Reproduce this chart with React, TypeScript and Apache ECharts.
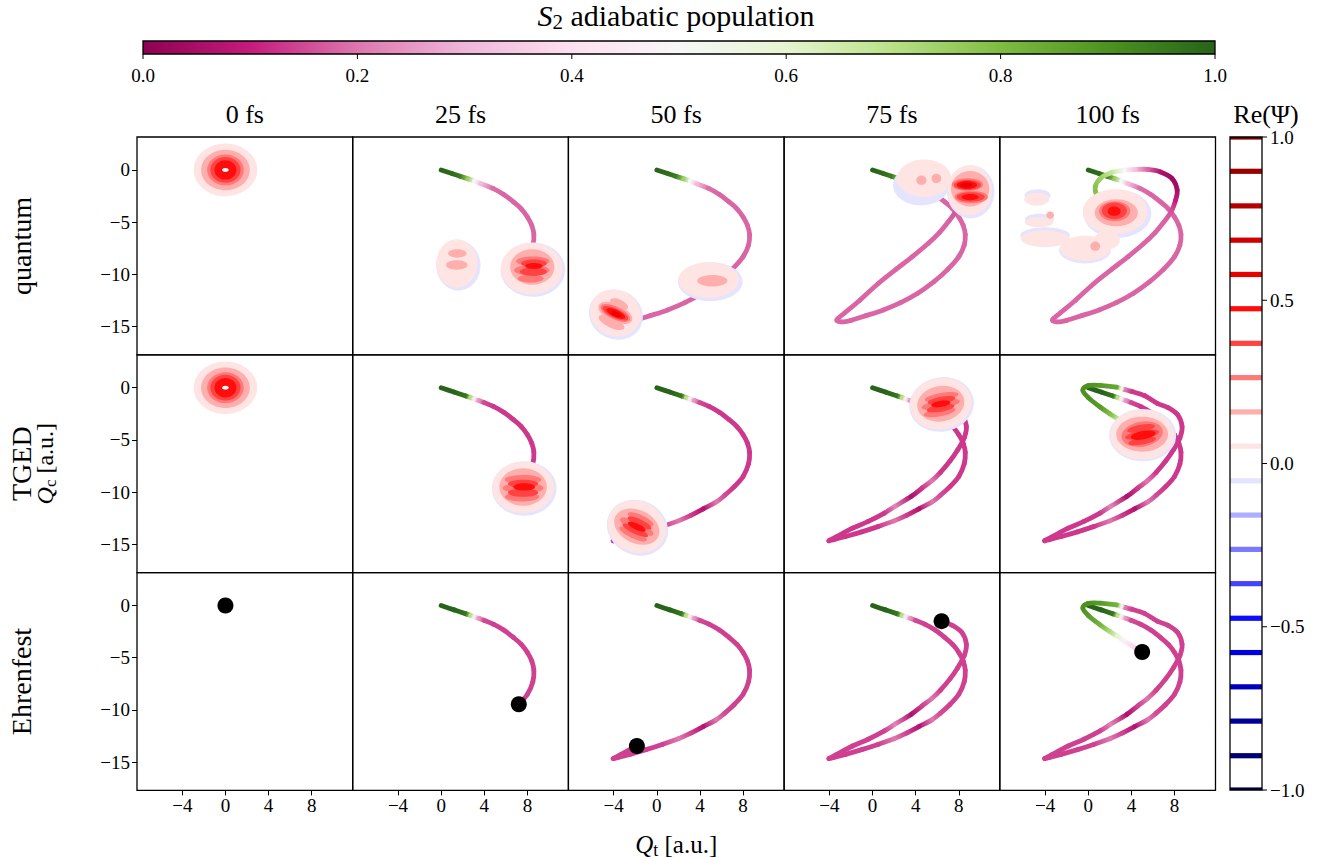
import React, { useEffect, useRef } from 'react';
import * as echarts from 'echarts';

const TIME_LABELS = ['0 fs', '25 fs', '50 fs', '75 fs', '100 fs'];
const ROW_LABELS = ['quantum', 'TGED', 'Ehrenfest'];
const X_TICKS = [-4, 0, 4, 8];
const Y_TICKS = [0, -5, -10, -15];
const X_RANGE = [-8.2, 11.8];
const Y_RANGE = [-17.7, 3.15];
const POP_TICKS = [0, 0.2, 0.4, 0.6, 0.8, 1.0];
const RE_TICKS = [1.0, 0.5, 0.0, -0.5, -1.0];
const RE_LEVELS = [-1, -0.895, -0.789, -0.684, -0.579, -0.474, -0.368, -0.263, -0.158, -0.053,
  0.053, 0.158, 0.263, 0.368, 0.474, 0.579, 0.684, 0.789, 0.895, 1];
const PIYG_STOPS = ['#8e0152', '#c51b7d', '#de77ae', '#f1b6da', '#fde0ef', '#f7f7f7',
  '#e6f5d0', '#b8e186', '#7fbc41', '#4d9221', '#276419'];

// Ehrenfest / TGED trajectory (Q_t, Q_c) and S2 population
const EHR_X = [0.0, 1.2, 2.3, 2.75, 3.1, 3.5, 4.0, 4.84, 5.8, 6.7, 7.45, 8.0, 8.4, 8.6, 8.5, 8.0, 7.2,
  6.3, 5.5, 4.3, 3.2, 2.0, 0.5, -1.0, -2.5, -3.6, -4.05, -3.4, -1.85,
  -0.4, 1.1, 2.1, 3.6, 4.6, 5.5, 6.3, 7.2, 7.9, 8.5, 8.7, 8.3, 7.4, 6.4,
  5.2, 4.0, 3.4, 3.05, 2.6, 1.1, 0.0, -0.5, 0.0, 1.1, 2.0, 2.7, 3.3, 4.2, 5.0];
const EHR_Y = [0.0, -0.42, -0.8, -0.95, -1.08, -1.23, -1.43, -1.79, -2.35, -3.06, -3.75, -4.5, -5.3, -6.2, -7.3, -8.5, -9.45,
  -10.3, -10.95, -11.6, -12.2, -12.75, -13.3, -13.8, -14.25, -14.55, -14.65, -14.3, -13.45,
  -12.8, -12.0, -11.35, -10.4, -9.6, -8.9, -8.1, -7.0, -5.95, -4.8, -3.7, -2.6, -1.9, -1.5,
  -0.75, -0.35, -0.18, -0.08, 0.05, 0.22, 0.2, -0.25, -0.95, -1.85, -2.5, -2.95, -3.38, -3.95, -4.45];
const EHR_POP = [1.0, 1.0, 0.96, 0.7, 0.45, 0.25, 0.15, 0.14, 0.14, 0.14, 0.14, 0.14, 0.14, 0.14, 0.14, 0.14, 0.14,
  0.15, 0.2, 0.07, 0.14, 0.2, 0.14, 0.14, 0.14, 0.14, 0.14, 0.14, 0.14,
  0.14, 0.14, 0.22, 0.06, 0.14, 0.2, 0.14, 0.14, 0.14, 0.14, 0.14, 0.14, 0.14, 0.14,
  0.14, 0.14, 0.2, 0.55, 0.82, 0.88, 0.9, 0.9, 0.88, 0.82, 0.72, 0.6, 0.48, 0.38, 0.35];
const TGED_POP = [1.0, 1.0, 0.96, 0.7, 0.45, 0.25, 0.15, 0.13, 0.13, 0.13, 0.13, 0.13, 0.13, 0.13, 0.13, 0.13, 0.13,
  0.15, 0.2, 0.07, 0.13, 0.2, 0.13, 0.13, 0.13, 0.13, 0.13, 0.13, 0.13,
  0.13, 0.13, 0.22, 0.06, 0.13, 0.2, 0.13, 0.13, 0.13, 0.13, 0.13, 0.13, 0.13, 0.13,
  0.13, 0.13, 0.2, 0.55, 0.85, 0.88, 0.9, 0.9, 0.9, 0.88, 0.8, 0.7, 0.6, 0.5, 0.45];
const EHR_END = [0, 16, 28, 42, 57];

// quantum expectation-value trajectory
const Q_X = [0.0, 1.0, 1.75, 2.5, 3.1, 3.7, 4.8, 5.8, 6.7, 7.45, 8.0, 8.4, 8.6, 8.5, 8.0,
  7.0, 5.7, 4.2, 2.6, 1.0, -0.6, -2.0, -2.9, -3.3, -2.6, -1.2, 0.5, 2.2, 3.7, 5.15, 6.2, 7.0, 7.7, 8.1,
  8.25, 7.78, 6.7, 5.5, 4.3, 3.3, 2.05, 1.12, 0.65, 0.85, 1.5];
const Q_Y = [0.0, -0.35, -0.6, -0.86, -1.07, -1.32, -1.77, -2.35, -3.06, -3.75, -4.5, -5.3, -6.2, -7.2, -8.3,
  -9.5, -10.7, -11.8, -12.7, -13.4, -13.95, -14.4, -14.55, -14.35, -13.7, -12.5, -10.9, -9.5, -8.3, -7.05, -6.0, -5.0, -4.0, -2.9,
  -1.94, -0.83, -0.19, 0.05, 0.03, -0.03, -0.29, -0.83, -1.63, -2.58, -3.4];
const Q_POP = [1.0, 0.98, 0.95, 0.75, 0.5, 0.32, 0.19, 0.18, 0.18, 0.18, 0.18, 0.18, 0.18, 0.18, 0.18,
  0.18, 0.18, 0.18, 0.18, 0.18, 0.18, 0.18, 0.18, 0.18, 0.18, 0.18, 0.18, 0.18, 0.18, 0.18, 0.18, 0.18, 0.16, 0.1,
  0.05, 0.03, 0.06, 0.18, 0.33, 0.5, 0.68, 0.75, 0.78, 0.8, 0.8];
const Q_END = [0, 14, 22, 33, 44];

// wave packets: [Qt, Qc, rx, ry, angle(deg), Re(Psi) level]; level 2 = above range (white)
const PK_0 = [
  [0, 0, 2.95, 2.52, 0, 0.053], [0, 0, 2.26, 1.94, 0, 0.158], [0, 0, 1.7, 1.48, 0, 0.263],
  [0, 0, 1.4, 1.23, 0, 0.368], [0, 0, 1.02, 0.93, 0, 0.474], [0, 0, 0.31, 0.18, 0, 2]];
const PK_Q25 = [
  [1.6, -9.15, 2.05, 2.4, 0, -0.053], [1.45, -8.95, 1.9, 2.3, 0, 0.053],
  [1.5, -8.0, 0.85, 0.4, 0, 0.158], [1.45, -9.1, 1.0, 0.45, 0, 0.158],
  [8.5, -9.55, 3.0, 2.6, 0, -0.053], [8.4, -9.45, 2.85, 2.45, 0, 0.053],
  [8.45, -9.3, 2.05, 1.7, 0, 0.158], [8.5, -8.75, 1.55, 0.45, 0, 0.263],
  [8.4, -9.6, 1.65, 0.5, 0, 0.263], [8.3, -10.4, 1.2, 0.38, 0, 0.263],
  [8.6, -8.95, 1.2, 0.38, 0, 0.368], [8.55, -9.75, 1.25, 0.4, 0, 0.368],
  [8.6, -9.2, 0.8, 0.28, 0, 0.474]];
const PK_Q50 = [
  [4.95, -10.7, 3.0, 1.85, 0, -0.053], [4.8, -10.55, 2.8, 1.7, 0, 0.053],
  [5.15, -10.6, 1.4, 0.55, 0, 0.158],
  [-3.8, -13.85, 2.55, 2.35, -25, -0.053], [-3.85, -13.7, 2.4, 2.2, -25, 0.053],
  [-3.5, -12.85, 0.9, 0.45, -25, 0.158], [-4.2, -14.6, 1.3, 0.5, -25, 0.158],
  [-3.85, -13.7, 1.7, 0.85, -25, 0.158], [-3.85, -13.7, 1.5, 0.6, -25, 0.263],
  [-3.85, -13.72, 1.3, 0.45, -25, 0.368], [-3.8, -13.75, 0.95, 0.35, -25, 0.474],
  [-3.75, -13.8, 0.5, 0.22, -25, 0.579]];
const PK_Q75 = [
  [4.5, -1.45, 2.6, 1.95, 0, -0.053], [4.8, -0.8, 2.5, 1.8, 0, 0.053], [3.1, -0.95, 0.9, 0.8, 0, 0.053],
  [4.53, -0.99, 0.47, 0.45, 0, 0.158], [5.92, -0.83, 0.45, 0.45, 0, 0.158],
  [9.1, -2.1, 2.2, 2.55, 0, -0.053], [9.0, -1.95, 2.05, 2.4, 0, 0.053],
  [9.05, -1.8, 1.78, 1.7, 0, 0.158], [8.8, -1.4, 1.45, 0.6, 0, 0.263], [9.15, -2.6, 1.55, 0.6, 0, 0.263],
  [8.8, -1.45, 1.25, 0.48, 0, 0.368], [9.1, -2.6, 1.3, 0.45, 0, 0.368],
  [8.75, -1.45, 0.95, 0.38, 0, 0.474], [9.05, -2.6, 0.8, 0.3, 0, 0.474], [8.7, -1.45, 0.55, 0.25, 0, 0.579]];
const PK_Q100 = [
  [2.7, -4.2, 3.15, 2.3, 0, -0.053], [2.5, -4.0, 3.0, 2.15, 0, 0.053],
  [2.6, -4.1, 2.0, 1.3, 0, 0.158], [2.45, -3.95, 1.45, 0.95, 0, 0.263],
  [2.42, -3.92, 1.16, 0.8, 0, 0.368], [2.4, -3.95, 0.6, 0.45, 0, 0.474],
  [-4.7, -2.45, 1.2, 0.6, 0, -0.053], [-4.77, -2.8, 1.16, 0.62, 0, 0.053],
  [-4.5, -4.7, 1.35, 0.5, 0, -0.053], [-4.56, -5.0, 1.32, 0.48, 0, 0.053],
  [-4.0, -6.3, 2.3, 0.8, 0, -0.053], [-4.0, -6.6, 2.25, 0.8, 0, 0.053],
  [-0.3, -7.7, 2.4, 1.25, 0, -0.053], [-0.28, -7.5, 2.33, 1.2, 0, 0.053],
  [1.74, -6.72, 1.2, 0.9, 0, 0.053], [-3.53, -4.33, 0.35, 0.35, 0, 0.158], [0.65, -7.3, 0.45, 0.45, 0, 0.158]];
const PK_T25 = [
  [7.7, -9.65, 3.0, 2.6, 0, -0.053], [7.6, -9.55, 2.85, 2.45, 0, 0.053],
  [7.6, -9.5, 2.2, 1.8, 0, 0.158], [7.6, -8.8, 1.7, 0.45, 0, 0.263],
  [7.6, -9.6, 1.9, 0.5, 0, 0.263], [7.5, -10.45, 1.6, 0.45, 0, 0.263],
  [7.6, -9.2, 1.4, 0.4, 0, 0.368], [7.6, -10.05, 1.4, 0.4, 0, 0.368], [7.7, -9.5, 1.0, 0.35, 0, 0.474]];
const PK_T50 = [
  [-1.8, -13.4, 2.9, 2.6, -25, -0.053], [-1.86, -13.3, 2.75, 2.45, -25, 0.053],
  [-1.86, -13.3, 2.2, 1.6, -25, 0.158], [-1.5, -12.6, 1.3, 0.4, -25, 0.263],
  [-1.86, -13.3, 1.7, 0.5, -25, 0.263], [-2.2, -14.0, 1.4, 0.4, -25, 0.263],
  [-1.6, -12.95, 1.2, 0.35, -25, 0.368], [-2.0, -13.65, 1.3, 0.35, -25, 0.368], [-1.86, -13.3, 0.9, 0.3, -25, 0.474]];
const PK_T75 = [
  [6.4, -1.6, 3.0, 2.6, 10, -0.053], [6.33, -1.53, 2.85, 2.45, 10, 0.053],
  [6.33, -1.53, 2.2, 1.7, 10, 0.158], [6.4, -0.9, 1.6, 0.4, 10, 0.263],
  [6.33, -1.6, 1.8, 0.45, 10, 0.263], [6.2, -2.35, 1.5, 0.4, 10, 0.263],
  [6.4, -1.2, 1.3, 0.35, 10, 0.368], [6.3, -1.95, 1.3, 0.35, 10, 0.368], [6.33, -1.55, 0.9, 0.3, 10, 0.474]];
const PK_T100 = [
  [5.05, -4.55, 3.1, 2.5, 0, -0.053], [4.99, -4.49, 2.95, 2.39, 0, 0.053],
  [5.0, -4.45, 2.4, 1.67, 0, 0.158], [5.0, -4.45, 1.94, 1.2, 10, 0.263],
  [4.9, -3.9, 1.3, 0.35, 10, 0.368], [5.0, -4.5, 1.6, 0.38, 10, 0.368],
  [5.0, -5.1, 1.3, 0.35, 10, 0.368], [5.1, -4.55, 1.16, 0.4, 10, 0.474]];

const PACKETS = [
  [PK_0, PK_Q25, PK_Q50, PK_Q75, PK_Q100],
  [PK_0, PK_T25, PK_T50, PK_T75, PK_T100],
  [[], [], [], [], []],
];

const FONT = "'Liberation Serif', 'DejaVu Serif', serif";
const TICK_FS = 19;

function hexRgb(h: string) {
  return [parseInt(h.slice(1, 3), 16), parseInt(h.slice(3, 5), 16), parseInt(h.slice(5, 7), 16)];
}
function rgbStr(c: number[]) {
  return 'rgb(' + c.map((v) => Math.round(Math.max(0, Math.min(255, v)))).join(',') + ')';
}
function piyg(p: number) {
  const q = Math.max(0, Math.min(1, p)) * 10;
  const i = Math.min(9, Math.floor(q));
  const t = q - i;
  const a = hexRgb(PIYG_STOPS[i]);
  const b = hexRgb(PIYG_STOPS[i + 1]);
  return rgbStr([0, 1, 2].map((k) => a[k] + (b[k] - a[k]) * t));
}
function pw(pts: number[][], t: number) {
  for (let i = 0; i < pts.length - 1; i++) {
    if (t <= pts[i + 1][0]) {
      const f = (t - pts[i][0]) / (pts[i + 1][0] - pts[i][0]);
      return pts[i][1] + (pts[i + 1][1] - pts[i][1]) * f;
    }
  }
  return pts[pts.length - 1][1];
}
function seismic(v: number) {
  const t = Math.max(0, Math.min(1, (v + 1) / 2));
  const r = pw([[0, 0], [0.25, 0], [0.5, 1], [0.75, 1], [1, 0.5]], t);
  const g = pw([[0, 0], [0.25, 0], [0.5, 1], [0.75, 0], [1, 0]], t);
  const b = pw([[0, 0.3], [0.25, 1], [0.5, 1], [0.75, 0], [1, 0]], t);
  return rgbStr([r * 255, g * 255, b * 255]);
}
const fmtNum = (v: any) => String(v).replace('-', '\u2212');

function segData(xs: number[], ys: number[], ps: number[], end: number) {
  const out: number[][] = [];
  for (let i = 0; i < end; i++) {
    const a = Math.max(i - 1, 0);
    const d = Math.min(i + 2, xs.length - 1);
    out.push([xs[i], ys[i], xs[i + 1], ys[i + 1], xs[a], ys[a], xs[d], ys[d], ps[i], ps[i + 1]]);
  }
  return out;
}

const renderSeg = (_params: any, api: any) => {
  const v = (k: number) => api.value(k);
  const p1 = api.coord([v(0), v(1)]);
  const p2 = api.coord([v(2), v(3)]);
  const p0 = api.coord([v(4), v(5)]);
  const p3 = api.coord([v(6), v(7)]);
  const c1 = [p1[0] + (p2[0] - p0[0]) / 6, p1[1] + (p2[1] - p0[1]) / 6];
  const c2 = [p2[0] - (p3[0] - p1[0]) / 6, p2[1] - (p3[1] - p1[1]) / 6];
  const stroke = new echarts.graphic.LinearGradient(p1[0], p1[1], p2[0] + 0.01, p2[1] + 0.01,
    [{ offset: 0, color: piyg(v(8)) }, { offset: 1, color: piyg(v(9)) }], true);
  return {
    type: 'bezierCurve',
    shape: { x1: p1[0], y1: p1[1], x2: p2[0], y2: p2[1], cpx1: c1[0], cpy1: c1[1], cpx2: c2[0], cpy2: c2[1] },
    style: { stroke, lineWidth: 4.8, lineCap: 'round', fill: 'none' },
  };
};

const renderBlob = (_params: any, api: any) => {
  const c = api.coord([api.value(0), api.value(1)]);
  const s = api.size([api.value(2), api.value(3)]);
  const lv = api.value(5);
  return {
    type: 'ellipse',
    x: c[0],
    y: c[1],
    rotation: (api.value(4) * Math.PI) / 180,
    shape: { cx: 0, cy: 0, rx: s[0], ry: s[1] },
    style: { fill: lv > 1.5 ? '#ffffff' : seismic(lv) },
  };
};

export default function App() {
  const ref = useRef<HTMLDivElement>(null);
  useEffect(() => {
    if (!ref.current) return;
    const chart = echarts.init(ref.current, undefined, { renderer: 'svg' });
    const GL = 137, GT = 137, GW = 215.7, GH = 217.8;
    const grids: any[] = [], xAxes: any[] = [], yAxes: any[] = [], series: any[] = [];
    for (let r = 0; r < 3; r++) {
      for (let c = 0; c < 5; c++) {
        const i = r * 5 + c;
        grids.push({
          left: GL + c * GW, top: GT + r * GH, width: GW, height: GH,
          show: true, borderColor: '#000', borderWidth: 1.3, backgroundColor: 'transparent',
        });
        xAxes.push({
          gridIndex: i, type: 'value', min: X_RANGE[0], max: X_RANGE[1], position: 'bottom',
          axisLine: { show: false, onZero: false }, splitLine: { show: false },
          axisTick: { show: r === 2, inside: false, length: 5, lineStyle: { color: '#000', width: 1 }, customValues: X_TICKS },
          axisLabel: { show: r === 2, customValues: X_TICKS, formatter: fmtNum, color: '#000', fontFamily: FONT, fontSize: TICK_FS, margin: 6 },
        });
        yAxes.push({
          gridIndex: i, type: 'value', min: Y_RANGE[0], max: Y_RANGE[1], position: 'left',
          axisLine: { show: false, onZero: false }, splitLine: { show: false },
          axisTick: { show: c === 0, inside: false, length: 5, lineStyle: { color: '#000', width: 1 }, customValues: Y_TICKS },
          axisLabel: { show: c === 0, customValues: Y_TICKS, formatter: fmtNum, color: '#000', fontFamily: FONT, fontSize: TICK_FS, margin: 7 },
        });
        if (c > 0) {
          const data = r === 0 ? segData(Q_X, Q_Y, Q_POP, Q_END[c])
            : segData(EHR_X, EHR_Y, r === 1 ? TGED_POP : EHR_POP, EHR_END[c]);
          series.push({
            type: 'custom', xAxisIndex: i, yAxisIndex: i, renderItem: renderSeg, data,
            encode: { x: [0, 2], y: [1, 3] }, clip: true, z: 2, silent: true,
          });
        }
        const pk = PACKETS[r][c];
        if (pk.length) {
          series.push({
            type: 'custom', xAxisIndex: i, yAxisIndex: i, renderItem: renderBlob, data: pk,
            encode: { x: 0, y: 1 }, clip: true, z: 3, silent: true,
          });
        }
        if (r === 2) {
          const k = EHR_END[c];
          series.push({
            type: 'scatter', xAxisIndex: i, yAxisIndex: i, data: [[EHR_X[k], EHR_Y[k]]],
            symbolSize: 16, itemStyle: { color: '#000', opacity: 1 }, z: 4, silent: true,
          });
        }
      }
    }

    const graphic: any[] = [];
    const txt = (x: number, y: number, text: string, size: number, extra: any = {}) => ({
      type: 'text', x, y, silent: true, ...extra,
      style: { text, fill: '#000', fontFamily: FONT, fontSize: size, align: 'center', verticalAlign: 'middle', ...(extra.style || {}) },
    });
    // column titles
    TIME_LABELS.forEach((t, c) => graphic.push(txt(GL + c * GW + GW / 2, 114, t, 26)));
    // row labels
    const rowY = [GT + GH / 2, GT + 1.5 * GH, GT + 2.5 * GH];
    ROW_LABELS.forEach((t, r) => graphic.push(txt(21, rowY[r], t, 28, { rotation: Math.PI / 2 })));
    const mkRich = (fs: number) => ({
      i: { fontStyle: 'italic', fontFamily: FONT, fontSize: fs },
      s: { fontFamily: FONT, fontSize: Math.round(fs * 0.7), verticalAlign: 'bottom', padding: [Math.round(fs * 0.45), 0, 0, 0] },
      n: { fontFamily: FONT, fontSize: fs },
    });
    graphic.push(txt(45, rowY[1], '{i|Q}{s|c}{n| [a.u.]}', 24, { rotation: Math.PI / 2, style: { rich: mkRich(24) } }));
    graphic.push(txt(GL + 2.5 * GW, 844, '{i|Q}{s|t}{n| [a.u.]}', 25, { style: { rich: mkRich(25) } }));
    graphic.push(txt(676, 15, '{i|S}{s|2}{n| adiabatic population}', 30, { style: { rich: mkRich(30) } }));

    // top colorbar (S2 population)
    const CB = { x: 143, y: 41, w: 1072, h: 13 };
    graphic.push({
      type: 'rect', silent: true, shape: { x: CB.x, y: CB.y, width: CB.w, height: CB.h },
      style: {
        fill: new echarts.graphic.LinearGradient(0, 0, 1, 0, PIYG_STOPS.map((col, k) => ({ offset: k / 10, color: col }))),
        stroke: '#000', lineWidth: 1.3,
      },
    });
    POP_TICKS.forEach((p) => {
      const x = CB.x + p * CB.w;
      graphic.push({ type: 'line', silent: true, shape: { x1: x, y1: CB.y + CB.h, x2: x, y2: CB.y + CB.h + 5 }, style: { stroke: '#000', lineWidth: 1 } });
      graphic.push(txt(x, 75, p.toFixed(1), TICK_FS));
    });

    // right colorbar (Re Psi)
    const RB = { x: 1230, y: 137, w: 32, h: 653 };
    graphic.push({ type: 'rect', silent: true, shape: { x: RB.x, y: RB.y, width: RB.w, height: RB.h }, style: { fill: '#fff', stroke: 'none' } });
    RE_LEVELS.forEach((lv) => {
      const yc = RB.y + ((1 - lv) / 2) * RB.h;
      const y0 = Math.max(RB.y, yc - 2.6);
      const y1 = Math.min(RB.y + RB.h, yc + 2.6);
      graphic.push({ type: 'rect', silent: true, shape: { x: RB.x, y: y0, width: RB.w, height: y1 - y0 }, style: { fill: seismic(lv) } });
    });
    graphic.push({ type: 'rect', silent: true, shape: { x: RB.x, y: RB.y, width: RB.w, height: RB.h }, style: { fill: 'none', stroke: '#000', lineWidth: 1.3 } });
    RE_TICKS.forEach((t) => {
      const y = RB.y + ((1 - t) / 2) * RB.h;
      graphic.push({ type: 'line', silent: true, shape: { x1: RB.x + RB.w, y1: y, x2: RB.x + RB.w + 5, y2: y }, style: { stroke: '#000', lineWidth: 1 } });
      graphic.push(txt(RB.x + RB.w + 8, y, fmtNum(t.toFixed(1)), TICK_FS, { style: { align: 'left' } }));
    });
    graphic.push(txt(1266, 114, 'Re(\u03A8)', 26));

    chart.setOption({
      animation: false,
      backgroundColor: '#fff',
      grid: grids,
      xAxis: xAxes,
      yAxis: yAxes,
      series,
      graphic,
    });
    return () => chart.dispose();
  }, []);
  return <div ref={ref} style={{ position: 'absolute', left: 0, top: 0, width: 1338, height: 858 }} />;
}
